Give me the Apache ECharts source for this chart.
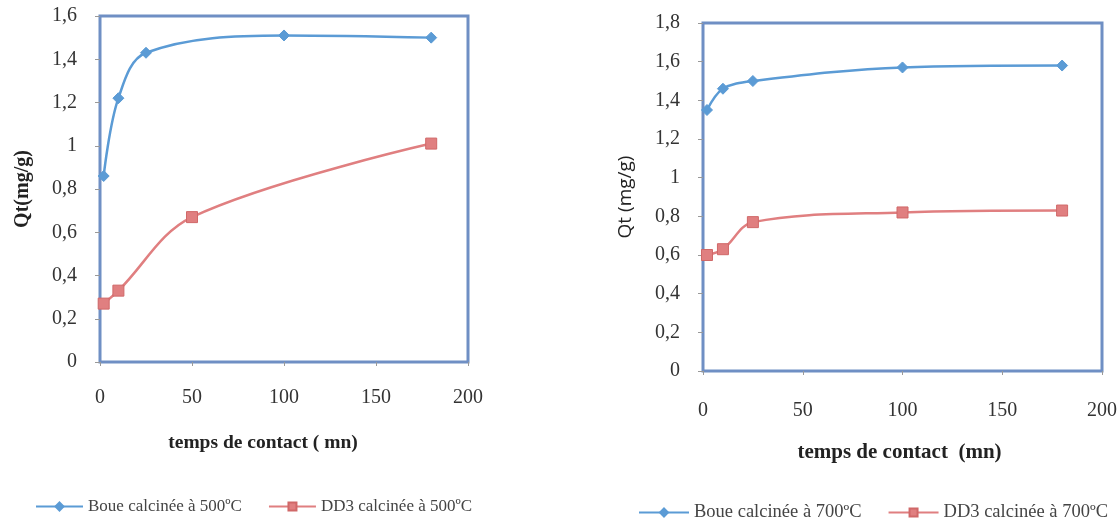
<!DOCTYPE html>
<html><head><meta charset="utf-8">
<script src="https://cdn.jsdelivr.net/npm/echarts@6/dist/echarts.min.js"></script>
<style>html,body{margin:0;padding:0;background:#fff}#c{width:1120px;height:518px}</style>
</head><body><div id="c"></div>
<script>
// Left chart (500 °C)
const tBoue500 = [2, 10, 25, 100, 180];
const qBoue500 = [0.86, 1.22, 1.43, 1.51, 1.50];
const tDD3500 = [2, 10, 50, 180];
const qDD3500 = [0.27, 0.33, 0.67, 1.01];
// Right chart (700 °C)
const tBoue700 = [2, 10, 25, 100, 180];
const qBoue700 = [1.35, 1.46, 1.50, 1.57, 1.58];
const tDD3700 = [2, 10, 25, 100, 180];
const qDD3700 = [0.60, 0.63, 0.77, 0.82, 0.83];
const names = ['Boue calcinée à 500ºC', 'DD3 calcinée à 500ºC', 'Boue calcinée à 700ºC', 'DD3 calcinée à 700ºC'];
const xTitles = ['temps de contact ( mn)', 'temps de contact  (mn)'];
const yTitles = ['Qt(mg/g)', 'Qt (mg/g)'];

const pair = (xs, ys) => xs.map((x, i) => [x, ys[i]]);
const fmt = v => String(+v.toFixed(1)).replace('.', ',');
const serif = '"Liberation Serif", "DejaVu Serif", serif';
const blue = '#5b9bd5', red = '#e07f80';

function xAx(gi, gap, margin, fs, pad) {
  return {
    type: 'value', gridIndex: gi, min: 0, max: 200, interval: 50,
    name: xTitles[gi], nameLocation: 'middle', nameGap: gap,
    nameTextStyle: {fontFamily: serif, fontWeight: 'bold', fontSize: fs, color: '#222', padding: pad},
    axisLine: {show: false},
    axisTick: {show: true, length: 4, lineStyle: {color: '#999'}},
    axisLabel: {fontFamily: serif, fontSize: 20, color: '#333', margin: margin},
    splitLine: {show: false}
  };
}
function yAx(gi, max, gap, nameStyle) {
  return {
    type: 'value', gridIndex: gi, min: 0, max: max, interval: 0.2,
    name: yTitles[gi], nameLocation: 'middle', nameGap: gap,
    nameTextStyle: nameStyle,
    axisLine: {show: false},
    axisTick: {show: true, length: 5, lineStyle: {color: '#999'}},
    axisLabel: {fontFamily: serif, fontSize: 20, color: '#333', margin: 23, formatter: fmt},
    splitLine: {show: false}
  };
}
function ser(name, gi, data, color, sym, size, border) {
  return {
    name: name, type: 'line', xAxisIndex: gi, yAxisIndex: gi, data: data,
    smooth: 0.35, symbol: sym, symbolSize: size,
    lineStyle: {color: color, width: 2.5},
    itemStyle: {color: color, borderColor: border, borderWidth: 1}
  };
}
const grid0 = {left: 100, top: 16, width: 368, height: 346, show: true, borderColor: '#6f8fc4', borderWidth: 3, backgroundColor: 'transparent'};
const grid1 = {left: 703, top: 23, width: 400, height: 348, show: true, borderColor: '#6f8fc4', borderWidth: 3, backgroundColor: 'transparent'};

const option = {
  animation: false,
  backgroundColor: '#fff',
  grid: [grid0, grid1],
  xAxis: [xAx(0, 71, 26, 19.5, [0, 42, 0, 0]), xAx(1, 71, 30, 21, [0, 6, 0, 0])],
  yAxis: [
    yAx(0, 1.6, 67, {fontFamily: serif, fontWeight: 'bold', fontSize: 20, color: '#222'}),
    yAx(1, 1.8, 68, {fontFamily: '"Open Sans", "Noto Sans", sans-serif', fontSize: 19, color: '#222'})
  ],
  legend: [
    {data: [names[0], names[1]], left: 30, top: 493, itemWidth: 47, itemHeight: 10, itemGap: 26,
     textStyle: {fontFamily: serif, fontSize: 17, color: '#444'}},
    {data: [names[2], names[3]], left: 633, top: 498, itemWidth: 50, itemHeight: 10, itemGap: 26,
     textStyle: {fontFamily: serif, fontSize: 18.5, color: '#444'}}
  ],
  series: [
    ser(names[0], 0, pair(tBoue500, qBoue500), blue, 'diamond', 11, blue),
    ser(names[1], 0, pair(tDD3500, qDD3500), red, 'rect', 11, '#d06868'),
    ser(names[2], 1, pair(tBoue700, qBoue700), blue, 'diamond', 11, blue),
    ser(names[3], 1, pair(tDD3700, qDD3700), red, 'rect', 11, '#d06868')
  ]
};
const chart = echarts.init(document.getElementById('c'), null, {renderer: 'canvas'});
chart.setOption(option);
</script></body></html>
